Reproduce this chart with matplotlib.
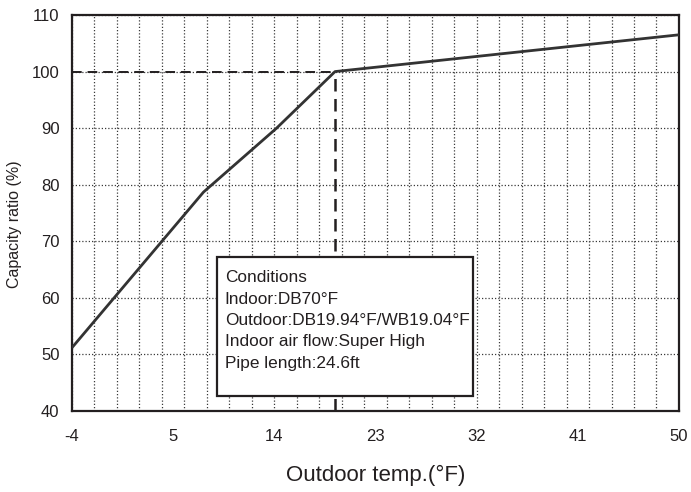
import matplotlib.pyplot as plt
from matplotlib.ticker import MultipleLocator
from matplotlib.patches import Rectangle

plt.rcParams['font.family'] = ['Liberation Sans', 'DejaVu Sans']
plt.rcParams['axes.unicode_minus'] = False

# capacity curve (outdoor temp in F, capacity ratio in %)
temp_f = [-4, 7.7, 14.2, 19.4, 50]
capacity = [51.2, 78.7, 90.0, 100.0, 106.5]
rated_temp = 19.4
rated_cap = 100

x_ticks = [-4, 5, 14, 23, 32, 41, 50]
y_ticks = [40, 50, 60, 70, 80, 90, 100, 110]

conditions = ['Conditions',
              'Indoor:DB70°F',
              'Outdoor:DB19.94°F/WB19.04°F',
              'Indoor air flow:Super High',
              'Pipe length:24.6ft']

fig = plt.figure(figsize=(6.91, 4.92), dpi=100)
ax = fig.add_axes([0.1042, 0.1646, 0.8784, 0.8049])

ax.set_xlim(-4, 50)
ax.set_ylim(40, 110)
ax.set_xticks(x_ticks)
ax.set_yticks(y_ticks)
ax.xaxis.set_minor_locator(MultipleLocator(2))
ax.xaxis.remove_overlapping_locs = False
ax.tick_params(which='both', length=0, labelsize=12, colors='#231f20')
ax.tick_params(axis='x', pad=13)
ax.tick_params(axis='y', pad=9)

dot = (0, (1, 1.6))
ax.grid(which='minor', axis='x', color='#3a3a3a', lw=0.9, ls=dot)
ax.grid(which='major', axis='y', color='#3a3a3a', lw=0.9, ls=dot)

for s in ax.spines.values():
    s.set_linewidth(1.6)
    s.set_color('#231f20')

# rated point guides
ax.plot([-4, rated_temp], [rated_cap, rated_cap], color='#231f20', lw=1.4,
        ls=(0, (5, 3)), zorder=3)
ax.plot([rated_temp, rated_temp], [40, rated_cap], color='#231f20', lw=1.8,
        ls=(0, (5, 3)), zorder=3)

ax.plot(temp_f, capacity, color='#333333', lw=2.0, zorder=4,
        solid_capstyle='butt')

# conditions box
ax.add_patch(Rectangle((8.87, 42.7), 31.7 - 8.87, 67.2 - 42.7, fill=True,
                       facecolor='white', edgecolor='#231f20', lw=1.6, zorder=5))
for i, line in enumerate(conditions):
    ax.text(9.6, 62.75 - 3.77 * i, line, fontsize=12.4, color='#231f20',
            va='baseline', ha='left', zorder=6)

ax.set_xlabel('Outdoor temp.(°F)', fontsize=16, color='#231f20', labelpad=15)
ax.set_ylabel('Capacity ratio (%)', fontsize=11.5, color='#231f20', va='center')
ax.yaxis.set_label_coords(-0.094, 0.472)

fig.savefig('out.png', dpi=100)
